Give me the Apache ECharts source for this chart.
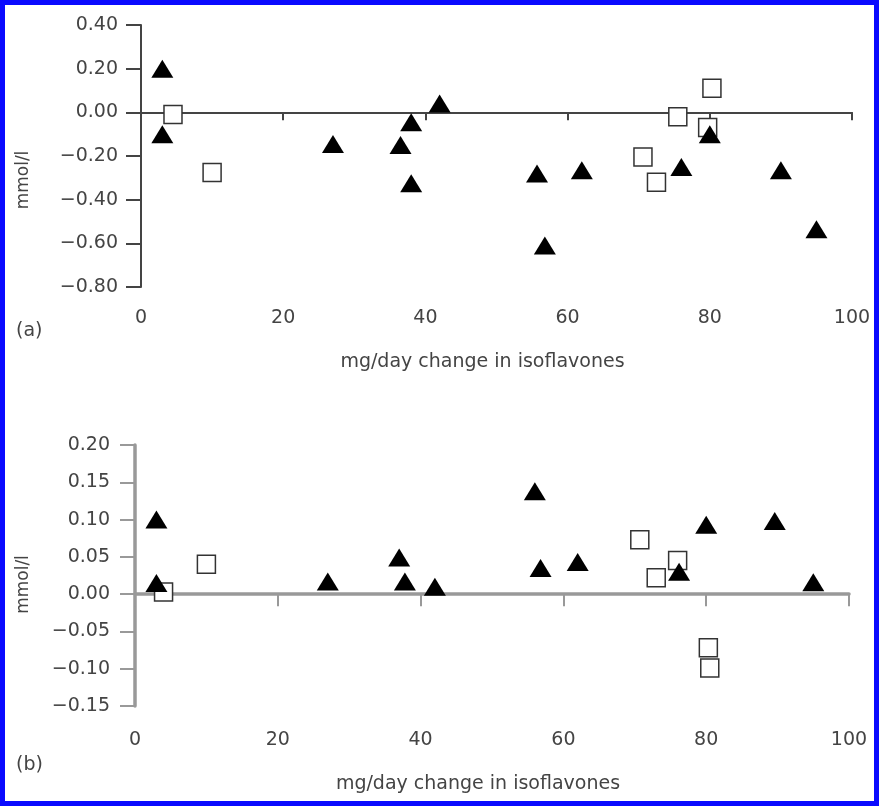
<!DOCTYPE html>
<html>
<head>
<meta charset="utf-8">
<script src="https://cdn.jsdelivr.net/npm/echarts@6/dist/echarts.min.js"></script>
<style>
html, body { margin: 0; padding: 0; background: #fff; }
#chart { width: 879px; height: 806px; }
</style>
</head>
<body>
<div id="chart"></div>
<script>
// panel (a) : [mg/day change in isoflavones, mmol/l]
var aTriangles = [[3, 0.20], [3, -0.10], [27, -0.145], [36.5, -0.15], [38, -0.045], [38, -0.325], [42, 0.04],
  [55.7, -0.28], [56.8, -0.61], [62, -0.265], [76, -0.25], [80, -0.10], [90, -0.265], [95, -0.535]];
var aSquares = [[4.5, -0.01], [10, -0.275], [70.6, -0.205], [72.5, -0.32], [75.5, -0.02], [79.7, -0.07], [80.3, 0.11]];

// panel (b)
var bTriangles = [[3, 0.10], [3, 0.015], [27, 0.017], [37, 0.049], [37.8, 0.017], [42, 0.01], [56, 0.138],
  [56.8, 0.035], [62, 0.043], [76.2, 0.03], [80, 0.093], [89.6, 0.098], [95, 0.016]];
var bSquares = [[4, 0.003], [10, 0.04], [70.7, 0.073], [73, 0.022], [76, 0.045], [80.3, -0.072], [80.5, -0.099]];

// axis ranges: [min, max, interval]
var xRange = [0, 100, 20];
var aYRange = [-0.8, 0.4, 0.2];
var bYRange = [-0.15, 0.2, 0.05];

var xName = 'mg/day change in isoflavones';
var yName = 'mmol/l';

var FONT = 'DejaVu Sans';
var TXT = '#444';

var chart = echarts.init(document.getElementById('chart'), null, { renderer: 'canvas' });

function yFmt(v) {
  var s = Math.abs(v).toFixed(2);
  return v < -1e-9 ? '\u2212' + s : s;
}

function xAxes(grid, r, lineColor, lineWidth, tickLen, labelMargin, nameGap) {
  return [{
    gridIndex: grid, type: 'value', min: r[0], max: r[1], interval: r[2],
    axisLine: { onZero: true, lineStyle: { color: lineColor, width: lineWidth } },
    axisTick: { length: tickLen, lineStyle: { color: lineColor, width: 2 } },
    axisLabel: { show: false },
    splitLine: { show: false }
  }, {
    gridIndex: grid, type: 'value', min: r[0], max: r[1], interval: r[2], position: 'bottom',
    axisLine: { show: false, onZero: false },
    axisTick: { show: false },
    axisLabel: { margin: labelMargin, color: TXT, fontFamily: FONT, fontSize: 19 },
    splitLine: { show: false },
    name: xName, nameLocation: 'middle', nameGap: nameGap,
    nameTextStyle: { color: TXT, fontFamily: FONT, fontSize: 19, padding: [0, 28, 0, 0] }
  }];
}

function yAxis(grid, r, lineColor, lineWidth, labelMargin, nameGap, namePad) {
  return {
    gridIndex: grid, type: 'value', min: r[0], max: r[1], interval: r[2],
    axisLine: { show: true, onZero: false, lineStyle: { color: lineColor, width: lineWidth } },
    axisTick: { show: true, length: 15, lineStyle: { color: lineColor, width: 2 } },
    axisLabel: { margin: labelMargin, color: TXT, fontFamily: FONT, fontSize: 19, formatter: yFmt },
    splitLine: { show: false },
    name: yName, nameLocation: 'middle', nameGap: nameGap,
    nameTextStyle: { color: TXT, fontFamily: FONT, fontSize: 17, padding: [0, namePad, 0, 0] }
  };
}

function squares(data, xi, yi) {
  return {
    type: 'scatter', xAxisIndex: xi, yAxisIndex: yi, data: data,
    symbol: 'rect', symbolSize: 18,
    itemStyle: { color: '#fff', borderColor: '#333', borderWidth: 1.5, opacity: 1 }
  };
}

function triangles(data, xi, yi) {
  return {
    type: 'scatter', xAxisIndex: xi, yAxisIndex: yi, data: data,
    symbol: 'triangle', symbolSize: [22, 18],
    itemStyle: { color: '#000', opacity: 1 }
  };
}

var option = {
  animation: false,
  backgroundColor: '#fff',
  grid: [
    { left: 141, right: 27, top: 25, height: 262 },
    { left: 135, right: 30, top: 445, height: 261 }
  ],
  xAxis: [].concat(
    xAxes(0, xRange, '#444', 2, 8, 22, 66),
    xAxes(1, xRange, '#999', 3.5, 12, 25, 69)
  ),
  yAxis: [
    yAxis(0, aYRange, '#444', 2, 23, 109, 48),
    yAxis(1, bYRange, '#999', 3.5, 25, 103, 18)
  ],
  series: [
    squares(aSquares, 0, 0),
    triangles(aTriangles, 0, 0),
    squares(bSquares, 2, 1),
    triangles(bTriangles, 2, 1)
  ],
  graphic: [
    { type: 'text', left: 16, top: 322, style: { text: '(a)', fill: TXT, font: '19px "DejaVu Sans"' } },
    { type: 'text', left: 16, top: 756, style: { text: '(b)', fill: TXT, font: '19px "DejaVu Sans"' } },
    { type: 'rect', shape: { x: 2.5, y: 2.5, width: 874, height: 801 },
      style: { fill: 'none', stroke: '#0a0aff', lineWidth: 5 }, z: 100 }
  ]
};

chart.setOption(option);
</script>
</body>
</html>
